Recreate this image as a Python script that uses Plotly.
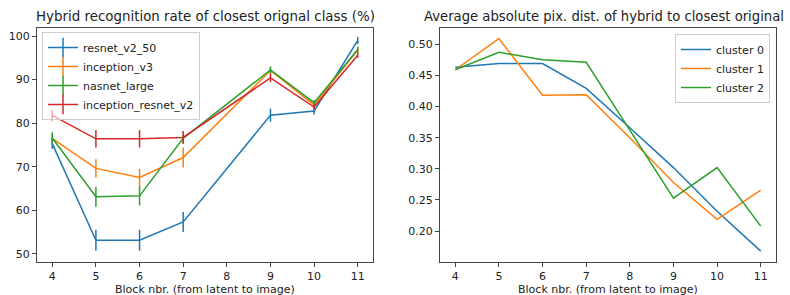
import plotly.graph_objects as go

# ---- data ----
blocks_left = [4, 5, 6, 7, 9, 10, 11]
resnet_v2_50 = [75.3, 53.1, 53.1, 57.3, 81.8, 82.8, 99.0]
resnet_v2_50_err = [1.2, 2.4, 2.4, 2.3, 1.5, 0.8, 0.8]
inception_v3 = [76.5, 69.6, 67.5, 72.1, 92.1, 84.2, 96.8]
inception_v3_err = [1.0, 2.1, 2.0, 2.3, 0.8, 0.6, 0.8]
nasnet_large = [76.6, 63.1, 63.3, 76.5, 92.2, 84.7, 96.9]
nasnet_large_err = [1.3, 2.3, 2.2, 1.0, 0.8, 0.6, 0.6]
inception_resnet_v2 = [81.8, 76.4, 76.4, 76.7, 90.4, 83.7, 95.6]
inception_resnet_v2_err = [1.2, 2.0, 2.0, 1.5, 1.0, 0.6, 0.6]

blocks_right = [4, 5, 6, 7, 8, 9, 10, 11]
cluster_0 = [0.463, 0.469, 0.469, 0.429, 0.366, 0.302, 0.232, 0.168]
cluster_1 = [0.459, 0.509, 0.418, 0.419, 0.350, 0.278, 0.219, 0.266]
cluster_2 = [0.459, 0.487, 0.475, 0.471, 0.362, 0.253, 0.302, 0.208]

x_ticks = [4, 5, 6, 7, 8, 9, 10, 11]
left_y_ticks = [50, 60, 70, 80, 90, 100]
right_y_ticks = [0.20, 0.25, 0.30, 0.35, 0.40, 0.45, 0.50]

colors = ["#1f77b4", "#ff7f0e", "#2ca02c", "#d62728"]
FONT = "DejaVu Sans"
TXT = "#222222"

fig = go.Figure()

left_series = [
    ("resnet_v2_50", resnet_v2_50, resnet_v2_50_err),
    ("inception_v3", inception_v3, inception_v3_err),
    ("nasnet_large", nasnet_large, nasnet_large_err),
    ("inception_resnet_v2", inception_resnet_v2, inception_resnet_v2_err),
]
for (name, ys, err), c in zip(left_series, colors):
    fig.add_trace(go.Scatter(
        x=blocks_left, y=ys, name=name, mode="lines", legendgroup=name, showlegend=False,
        line=dict(color=c, width=1.5),
        error_y=dict(type="data", array=err, visible=True, color=c, thickness=1.5, width=0),
        xaxis="x", yaxis="y",
    ))
# legend entries (line with a vertical error-bar tick, like matplotlib's errorbar handle)
for (name, ys, err), c in zip(left_series, colors):
    fig.add_trace(go.Scatter(
        x=[None], y=[None], name=name, mode="lines+markers", legendgroup=name,
        line=dict(color=c, width=1.5),
        marker=dict(symbol="line-ns-open", size=14, color=c, line=dict(color=c, width=1.5)),
        xaxis="x", yaxis="y", legend="legend",
    ))

for i, (name, ys) in enumerate([("cluster 0", cluster_0), ("cluster 1", cluster_1), ("cluster 2", cluster_2)]):
    fig.add_trace(go.Scatter(
        x=blocks_right, y=ys, name=name, mode="lines",
        line=dict(color=colors[i], width=1.5),
        xaxis="x2", yaxis="y2", legend="legend2",
    ))

axis_common = dict(
    showline=True, mirror=True, linecolor="#444", linewidth=1,
    ticks="outside", ticklen=4, tickwidth=1, tickcolor="#444",
    showgrid=False, zeroline=False,
    tickfont=dict(family=FONT, size=11, color=TXT),
)

fig.update_layout(
    width=790, height=295,
    margin=dict(l=0, r=0, t=0, b=0),
    paper_bgcolor="white", plot_bgcolor="white",
    font=dict(family=FONT, color=TXT),
    xaxis=dict(domain=[37/790, 373/790], range=[3.65, 11.35], tickmode="array",
               tickvals=x_ticks, anchor="y", **axis_common),
    yaxis=dict(domain=[33/295, 267/295], range=[48.1, 101.85], tickmode="array",
               tickvals=left_y_ticks, anchor="x", **axis_common),
    xaxis2=dict(domain=[440/790, 776/790], range=[3.65, 11.35], tickmode="array",
                tickvals=x_ticks, anchor="y2", **axis_common),
    yaxis2=dict(domain=[33/295, 267/295], range=[0.1505, 0.526], tickmode="array",
                tickvals=right_y_ticks, tickformat=".2f", anchor="x2", **axis_common),
    legend=dict(x=42/790, y=1-32/295, xanchor="left", yanchor="top",
                bgcolor="rgba(255,255,255,0.6)", bordercolor="#cccccc", borderwidth=1,
                font=dict(family=FONT, size=11, color=TXT), tracegroupgap=0),
    legend2=dict(x=770/790, y=1-34/295, xanchor="right", yanchor="top",
                 bgcolor="rgba(255,255,255,0.8)", bordercolor="#cccccc", borderwidth=1,
                 font=dict(family=FONT, size=11, color=TXT), tracegroupgap=0),
    showlegend=True,
    annotations=[
        dict(text="Hybrid recognition rate of closest orignal class (%)", x=205/790, y=1-16/295,
             xref="paper", yref="paper", showarrow=False, xanchor="center", yanchor="middle",
             font=dict(family=FONT, size=13.4, color=TXT)),
        dict(text="Average absolute pix. dist. of hybrid to closest original", x=604/790, y=1-16/295,
             xref="paper", yref="paper", showarrow=False, xanchor="center", yanchor="middle",
             font=dict(family=FONT, size=13.2, color=TXT)),
        dict(text="Block nbr. (from latent to image)", x=205/790, y=1-289/295,
             xref="paper", yref="paper", showarrow=False, xanchor="center", yanchor="middle",
             font=dict(family=FONT, size=11, color=TXT)),
        dict(text="Block nbr. (from latent to image)", x=608/790, y=1-289/295,
             xref="paper", yref="paper", showarrow=False, xanchor="center", yanchor="middle",
             font=dict(family=FONT, size=11, color=TXT)),
    ],
)

fig.write_html("out.html", config={"displayModeBar": False},
               post_script="document.body.style.margin='0';document.body.style.overflow='hidden';")
